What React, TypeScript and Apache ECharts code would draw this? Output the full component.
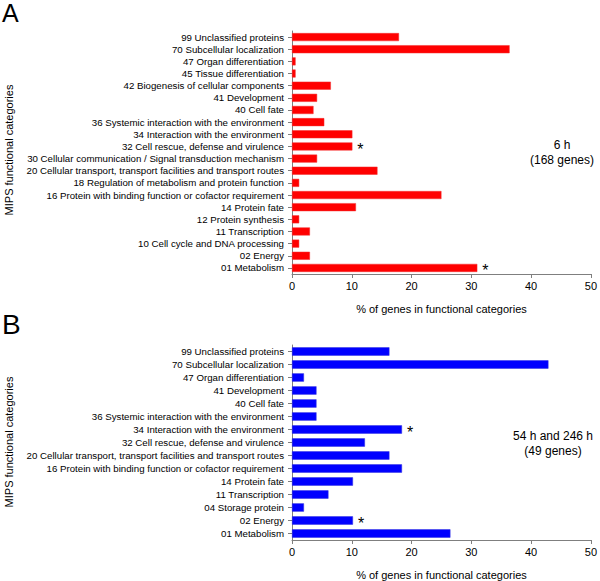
import React, { useEffect, useRef } from "react";
import * as echarts from "echarts";

const categoriesA = [
  "99 Unclassified proteins",
  "70 Subcellular localization",
  "47 Organ differentiation",
  "45 Tissue differentiation",
  "42 Biogenesis of cellular components",
  "41 Development",
  "40 Cell fate",
  "36 Systemic interaction with the environment",
  "34 Interaction with the environment",
  "32 Cell rescue, defense and virulence",
  "30 Cellular communication / Signal transduction mechanism",
  "20 Cellular transport, transport facilities and transport routes",
  "18 Regulation of metabolism and protein function",
  "16 Protein with binding function or cofactor requirement",
  "14 Protein fate",
  "12 Protein synthesis",
  "11 Transcription",
  "10 Cell cycle and DNA processing",
  "02 Energy",
  "01 Metabolism",
];
const valuesA = [17.9, 36.4, 0.6, 0.6, 6.5, 4.2, 3.6, 5.4, 10.1, 10.1, 4.2, 14.3, 1.2, 25.0, 10.7, 1.2, 3.0, 1.2, 3.0, 31.0];
const starredA = ["32 Cell rescue, defense and virulence", "01 Metabolism"];

const categoriesB = [
  "99 Unclassified proteins",
  "70 Subcellular localization",
  "47 Organ differentiation",
  "41 Development",
  "40 Cell fate",
  "36 Systemic interaction with the environment",
  "34 Interaction with the environment",
  "32 Cell rescue, defense and virulence",
  "20 Cellular transport, transport facilities and transport routes",
  "16 Protein with binding function or cofactor requirement",
  "14 Protein fate",
  "11 Transcription",
  "04 Storage protein",
  "02 Energy",
  "01 Metabolism",
];
const valuesB = [16.3, 42.9, 2.0, 4.1, 4.1, 4.1, 18.4, 12.2, 16.3, 18.4, 10.2, 6.1, 2.0, 10.2, 26.5];
const starredB = ["34 Interaction with the environment", "02 Energy"];

const xTicks = [0, 10, 20, 30, 40, 50];

const FONT = "Liberation Sans, Arial, sans-serif";
const AXIS_COLOR = "#7f7f7f";

function buildData(cats: string[], vals: number[], starred: string[]) {
  return vals.map((v, i) => {
    const star = starred.includes(cats[i]);
    return {
      value: v,
      label: star
        ? {
            show: true,
            position: "right",
            formatter: "*",
            fontSize: 16,
            color: "#000",
            fontFamily: FONT,
            distance: 5,
            offset: [0, 3],
          }
        : { show: false },
    };
  });
}

export default function App() {
  const ref = useRef<HTMLDivElement>(null);
  useEffect(() => {
    document.body.style.margin = "0";
    const chart = echarts.init(ref.current!, null, { renderer: "svg" });
    const xAxisCommon = (gridIndex: number) => ({
      type: "value",
      gridIndex,
      min: xTicks[0],
      max: xTicks[xTicks.length - 1],
      interval: 10,
      name: "% of genes in functional categories",
      nameLocation: "middle",
      nameGap: 29,
      nameTextStyle: { fontSize: 11, color: "#000", fontFamily: FONT },
      axisLine: { show: true, lineStyle: { color: AXIS_COLOR, width: 1 } },
      axisTick: { show: true, length: 4, lineStyle: { color: AXIS_COLOR } },
      axisLabel: { fontSize: 11, color: "#000", fontFamily: FONT, margin: 6 },
      splitLine: { show: false },
    });
    const yAxisCommon = (gridIndex: number, cats: string[]) => ({
      type: "category",
      gridIndex,
      data: cats,
      inverse: true,
      axisLine: { show: true, lineStyle: { color: AXIS_COLOR, width: 1 } },
      axisTick: { show: true, length: 4, alignWithLabel: true, lineStyle: { color: AXIS_COLOR } },
      axisLabel: { fontSize: 9.7, color: "#000", fontFamily: FONT, margin: 8, interval: 0 },
    });
    chart.setOption({
      animation: false,
      backgroundColor: "#fff",
      grid: [
        { left: 292, top: 31, width: 301, height: 243 },
        { left: 292, top: 345, width: 301, height: 195 },
      ],
      xAxis: [xAxisCommon(0), xAxisCommon(1)],
      yAxis: [yAxisCommon(0, categoriesA), yAxisCommon(1, categoriesB)],
      series: [
        {
          type: "bar",
          xAxisIndex: 0,
          yAxisIndex: 0,
          data: buildData(categoriesA, valuesA, starredA),
          barCategoryGap: "34%",
          itemStyle: { color: "#ff0000", borderColor: "#f23030", borderWidth: 0.5 },
        },
        {
          type: "bar",
          xAxisIndex: 1,
          yAxisIndex: 1,
          data: buildData(categoriesB, valuesB, starredB),
          barCategoryGap: "36%",
          itemStyle: { color: "#0000ff", borderColor: "#3030e0", borderWidth: 0.5 },
        },
      ],
      graphic: [
        { type: "text", left: 2, top: 0, style: { text: "A", fontSize: 25, fontFamily: FONT, fill: "#000" } },
        { type: "text", left: 2, top: 310, style: { text: "B", fontSize: 28, fontFamily: FONT, fill: "#000" } },
        {
          type: "text",
          x: 9,
          y: 150,
          rotation: Math.PI / 2,
          style: { text: "MIPS functional categories", fontSize: 11, fontFamily: FONT, fill: "#000", align: "center", verticalAlign: "middle" },
        },
        {
          type: "text",
          x: 9,
          y: 442,
          rotation: Math.PI / 2,
          style: { text: "MIPS functional categories", fontSize: 11, fontFamily: FONT, fill: "#000", align: "center", verticalAlign: "middle" },
        },
        {
          type: "text",
          x: 562,
          y: 152,
          style: { text: "6 h\n(168 genes)", fontSize: 12, lineHeight: 15, fontFamily: FONT, fill: "#000", align: "center", verticalAlign: "middle" },
        },
        {
          type: "text",
          x: 553,
          y: 443,
          style: { text: "54 h and 246 h\n(49 genes)", fontSize: 12, lineHeight: 15, fontFamily: FONT, fill: "#000", align: "center", verticalAlign: "middle" },
        },
      ],
    });
    return () => chart.dispose();
  }, []);
  return <div ref={ref} style={{ width: 600, height: 581 }} />;
}
